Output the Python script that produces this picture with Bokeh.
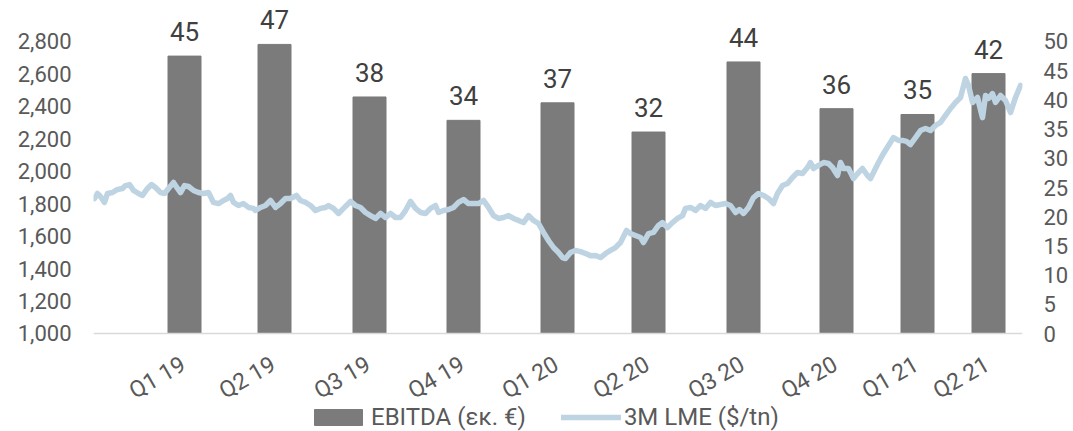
from bokeh.plotting import figure
from bokeh.models import (Range1d, LinearAxis, FixedTicker, ColumnDataSource, LabelSet,
                          Legend, LegendItem, NumeralTickFormatter, Span)
from bokeh.core.properties import value
from bokeh.embed import file_html
from bokeh.resources import INLINE
import math

# ---- data ----
quarters = ["Q1 19", "Q2 19", "Q3 19", "Q4 19", "Q1 20", "Q2 20", "Q3 20", "Q4 20", "Q1 21", "Q2 21"]
bar_day = [91, 181, 276, 370, 464, 555, 650, 743, 824, 895]   # days since 1 Jan 2019
ebitda = [45, 47, 38, 34, 37, 32, 44, 36, 35, 42]              # EBITDA (εκ. €)

lme_day = [1, 4, 7, 11, 14, 19, 24, 29, 32, 36, 40, 45, 49, 54, 58, 62, 67, 71, 75, 80,
           84, 87, 91, 95, 100, 105, 110, 115, 120, 125, 130, 134, 137, 140, 145, 150, 155, 160, 162, 167,
           172, 177, 182, 187, 192, 197, 203, 207, 212, 217, 222, 227, 232, 235, 240, 245, 250, 257, 262, 267,
           272, 277, 282, 287, 292, 297, 302, 307, 312, 317, 322, 327, 332, 337, 342, 345, 350, 355, 360, 365,
           370, 375, 380, 385, 390, 395, 400, 405, 410, 415, 420, 425, 430, 435, 440, 445, 450, 455, 460, 465,
           469, 472, 477, 482, 487, 492, 497, 502, 507, 512, 517, 522, 527, 533, 537, 542, 547, 550, 555, 560,
           565, 569, 574, 579, 584, 589, 592, 597, 602, 607, 612, 617, 622, 627, 632, 637, 642, 646, 650, 655,
           660, 665, 670, 675, 680, 684, 689, 694, 699, 704, 709, 714, 717, 720, 725, 730, 735, 739, 744, 747,
           750, 755, 760, 765, 769, 774, 777, 782, 785, 790, 795, 800, 805, 809, 813, 817, 822, 827, 832, 837,
           842, 847, 852, 857, 862, 867, 872, 875, 879, 884, 889, 892, 895, 899, 902, 907, 912, 917, 922, 927]
lme_price = [1832, 1863, 1845, 1808, 1863, 1869, 1888, 1894, 1912, 1918, 1882, 1863, 1851, 1894, 1918, 1900, 1869, 1863, 1894, 1931,
             1894, 1869, 1912, 1906, 1882, 1869, 1863, 1869, 1808, 1801, 1820, 1832, 1851, 1808, 1789, 1801, 1777, 1771, 1758, 1777,
             1789, 1820, 1777, 1801, 1832, 1832, 1851, 1820, 1808, 1789, 1758, 1771, 1777, 1789, 1771, 1740, 1771, 1814, 1789, 1777,
             1746, 1727, 1709, 1740, 1715, 1740, 1715, 1715, 1758, 1814, 1771, 1746, 1740, 1771, 1789, 1746, 1758, 1764, 1777, 1808,
             1826, 1801, 1801, 1801, 1820, 1777, 1727, 1709, 1715, 1727, 1709, 1697, 1684, 1727, 1697, 1678, 1623, 1573, 1530, 1499,
             1468, 1462, 1499, 1512, 1505, 1493, 1480, 1481, 1468, 1493, 1512, 1530, 1561, 1635, 1616, 1604, 1592, 1561, 1616, 1623,
             1666, 1684, 1653, 1684, 1709, 1727, 1771, 1777, 1758, 1789, 1771, 1808, 1789, 1795, 1801, 1789, 1746, 1764, 1740, 1777,
             1838, 1863, 1851, 1832, 1801, 1863, 1912, 1925, 1962, 1992, 1986, 2023, 2054, 2017, 2036, 2054, 2048, 2023, 1974, 2054,
             2017, 2017, 1955, 1992, 2017, 1974, 1955, 2017, 2054, 2110, 2159, 2208, 2190, 2190, 2184, 2165, 2208, 2251, 2264, 2251,
             2282, 2301, 2344, 2387, 2424, 2455, 2572, 2529, 2424, 2455, 2331, 2467, 2449, 2479, 2424, 2467, 2436, 2362, 2455, 2529]

left_ticks = [1000, 1200, 1400, 1600, 1800, 2000, 2200, 2400, 2600, 2800]
right_ticks = [0, 5, 10, 15, 20, 25, 30, 35, 40, 45, 50]

# ---- styling ----
FONT = "Roboto"
TXT = "#595959"
BAR = "#7b7b7b"
LINE = "#bed4e2"
LME_BASE = 1000      # value of the left axis at the category baseline
BAR_BASE = -2.5      # bar baseline on the bar scale

p = figure(width=1073, height=431, output_backend="svg", toolbar_location=None,
           x_range=Range1d(0, 929), y_range=Range1d(395.9, 3052.7),
           min_border_left=93, min_border_right=51, min_border_top=0, min_border_bottom=0,
           background_fill_color="white", border_fill_color="white")
p.outline_line_color = None
p.grid.visible = False
p.axis.visible = False

p.extra_y_ranges = {"right": Range1d(-16.78, 57.02), "bars": Range1d(-19.28, 54.52)}

bars_src = ColumnDataSource(dict(x=bar_day, top=ebitda, lab=[str(v) for v in ebitda]))
bars = p.vbar(x="x", top="top", bottom=BAR_BASE, width=33, source=bars_src,
              y_range_name="bars", fill_color=BAR, line_color=BAR)
line = p.line(lme_day, lme_price, line_color=LINE, line_width=5.5, line_join="round", line_cap="round")

labels = LabelSet(x="x", y="top", text="lab", source=bars_src, y_range_name="bars",
                  text_align="center", text_baseline="alphabetic", y_offset=15,
                  text_font=value(FONT), text_font_size="26px", text_color="#404040")
p.add_layout(labels)

# category axis baseline and labels
p.add_layout(Span(location=LME_BASE, dimension="width", line_color="#d9d9d9", line_width=1.5))
cat_src = ColumnDataSource(dict(x=bar_day, y=[LME_BASE] * len(bar_day), t=quarters))
cat_labels = LabelSet(x="x", y="y", text="t", source=cat_src, angle=math.radians(30),
                      text_align="right", text_baseline="middle", x_offset=-1, y_offset=-29,
                      text_font=value(FONT), text_font_size="23px", text_color=TXT)
p.add_layout(cat_labels)

def style(ax):
    ax.axis_line_color = None
    ax.major_tick_line_color = None
    ax.minor_tick_line_color = None
    ax.major_tick_out = 0
    ax.major_tick_in = 0
    ax.minor_tick_out = 0
    ax.major_label_text_font = FONT
    ax.major_label_text_color = TXT

yl = LinearAxis(ticker=FixedTicker(ticks=left_ticks), formatter=NumeralTickFormatter(format="0,0"))
style(yl)
yl.major_label_text_font_size = "22px"
yl.major_label_standoff = 22
p.add_layout(yl, "left")

yr = LinearAxis(y_range_name="right", ticker=FixedTicker(ticks=right_ticks))
style(yr)
yr.major_label_text_font_size = "22px"
yr.major_label_standoff = 21
p.add_layout(yr, "right")

legend = Legend(items=[LegendItem(label="EBITDA (εκ. €)", renderers=[bars]),
                       LegendItem(label="3M LME ($/tn)", renderers=[line])],
                orientation="horizontal", location=(215, 0),
                glyph_width=60, glyph_height=20, spacing=35, label_standoff=3,
                label_text_font=FONT, label_text_font_size="24px", label_text_color=TXT,
                padding=0, margin=0, border_line_color=None, background_fill_alpha=0)
p.add_layout(legend)

open("out.html", "w").write(file_html(p, INLINE))
